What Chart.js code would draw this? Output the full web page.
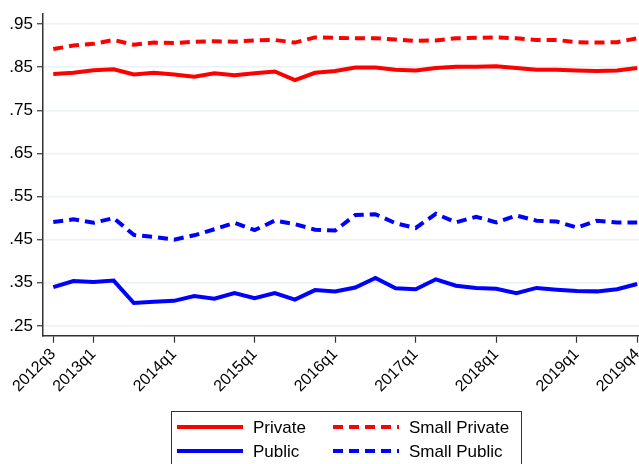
<!DOCTYPE html>
<html>
<head>
<meta charset="utf-8">
<script src="https://cdn.jsdelivr.net/npm/chart.js@4.4.1/dist/chart.umd.min.js"></script>
<style>
  html, body { margin: 0; padding: 0; background: #fff; }
  #wrap { width: 639px; height: 464px; }
</style>
</head>
<body>
<div id="wrap"><canvas id="grafico" width="639" height="464"></canvas></div>
<script>
// Trimestres (eixo x)
const quarters = ['2012q3','2012q4','2013q1','2013q2','2013q3','2013q4','2014q1','2014q2','2014q3','2014q4',
                  '2015q1','2015q2','2015q3','2015q4','2016q1','2016q2','2016q3','2016q4','2017q1','2017q2',
                  '2017q3','2017q4','2018q1','2018q2','2018q3','2018q4','2019q1','2019q2','2019q3','2019q4'];
const tickQuarters = ['2012q3','2013q1','2014q1','2015q1','2016q1','2017q1','2018q1','2019q1','2019q4'];
const yTicks = [.25, .35, .45, .55, .65, .75, .85, .95];

// Séries
const privateVals = [.834,.837,.843,.845,.833,.837,.833,.828,.836,.831,.836,.840,.820,.837,.841,
                     .849,.849,.844,.842,.848,.851,.851,.852,.848,.844,.844,.842,.841,.842,.848];
const smallPrivateVals = [.892,.900,.904,.913,.902,.907,.906,.909,.910,.909,.912,.913,.907,.919,.918,
                          .917,.917,.914,.911,.912,.917,.918,.919,.917,.913,.913,.908,.907,.908,.917];
const publicVals = [.340,.354,.352,.355,.303,.306,.308,.319,.313,.326,.314,.326,.311,.333,.330,
                    .339,.361,.337,.335,.358,.343,.338,.336,.326,.338,.334,.331,.330,.335,.347];
const smallPublicVals = [.491,.497,.489,.500,.461,.456,.450,.460,.474,.489,.472,.494,.486,.473,.471,
                         .507,.509,.488,.477,.510,.490,.503,.490,.506,.494,.492,.478,.494,.490,.490];

const FONT = 'Liberation Sans, Arial, sans-serif';
const DASH = [10, 6];

function toPoints(vals) {
    return vals.map((v, i) => ({ x: i, y: v }));
}

function serie(label, vals, color, dashed) {
    return {
        label: label,
        data: toPoints(vals),
        borderColor: color,
        backgroundColor: color,
        borderWidth: 4,
        borderDash: dashed ? DASH : [],
        pointRadius: 0,
        tension: 0,
        fill: false
    };
}

// Legenda desenhada à mão (caixa 2x2 como no original)
const legendaBox = {
    id: 'legendaBox',
    afterDraw(chart) {
        const ctx = chart.ctx;
        const ds = chart.data.datasets;
        ctx.save();
        ctx.strokeStyle = '#333';
        ctx.lineWidth = 1;
        ctx.strokeRect(171.5, 411.5, 350, 60);

        const slots = [
            { i: 0, x: 177, y: 427 },
            { i: 1, x: 333, y: 427 },
            { i: 2, x: 177, y: 451 },
            { i: 3, x: 333, y: 451 }
        ];
        ctx.font = '17px ' + FONT;
        ctx.textBaseline = 'middle';
        slots.forEach(s => {
            const d = ds[s.i];
            ctx.beginPath();
            ctx.strokeStyle = d.borderColor;
            ctx.lineWidth = 4;
            ctx.setLineDash(d.borderDash || []);
            ctx.moveTo(s.x, s.y);
            ctx.lineTo(s.x + 66, s.y);
            ctx.stroke();
            ctx.setLineDash([]);
            ctx.fillStyle = '#000';
            ctx.fillText(d.label, s.x + 76, s.y + 1);
        });
        ctx.restore();
    }
};

new Chart(document.getElementById('grafico'), {
    type: 'line',
    data: {
        datasets: [
            serie('Private', privateVals, '#ff0000', false),
            serie('Small Private', smallPrivateVals, '#ff0000', true),
            serie('Public', publicVals, '#0000ff', false),
            serie('Small Public', smallPublicVals, '#0000ff', true)
        ]
    },
    options: {
        responsive: false,
        animation: false,
        devicePixelRatio: 1,
        layout: { padding: { top: 9, right: 0, left: 0, bottom: 0 } },
        plugins: {
            legend: { display: false },
            tooltip: { enabled: false }
        },
        scales: {
            x: {
                type: 'linear',
                min: -0.51,
                max: 29.09,
                afterFit(scale) {
                    scale.height = 128.3;
                    scale.paddingRight = 0;
                    scale.paddingLeft = 0;
                },
                afterBuildTicks(scale) {
                    scale.ticks = tickQuarters.map(q => ({ value: quarters.indexOf(q) }));
                },
                ticks: {
                    autoSkip: false,
                    minRotation: 45,
                    maxRotation: 45,
                    padding: 2,
                    color: '#000',
                    font: { family: FONT, size: 16 },
                    callback: v => quarters[v]
                },
                grid: {
                    drawOnChartArea: false,
                    drawTicks: true,
                    tickLength: 7,
                    tickColor: '#333',
                    tickWidth: 1.2
                },
                border: { color: '#333', width: 1.5 }
            },
            y: {
                min: 0.2272,
                max: 0.9728,
                afterFit(scale) { scale.width = 43; },
                afterBuildTicks(scale) {
                    scale.ticks = yTicks.map(v => ({ value: v }));
                },
                ticks: {
                    padding: 4,
                    color: '#000',
                    font: { family: FONT, size: 17 },
                    callback: v => '.' + Math.round(v * 100)
                },
                grid: {
                    color: '#eaf2f3',
                    lineWidth: 1.5,
                    drawTicks: true,
                    tickLength: 6,
                    tickColor: '#333',
                    tickWidth: 1.2
                },
                border: { color: '#333', width: 1.5 }
            }
        }
    },
    plugins: [legendaBox]
});
</script>
</body>
</html>
